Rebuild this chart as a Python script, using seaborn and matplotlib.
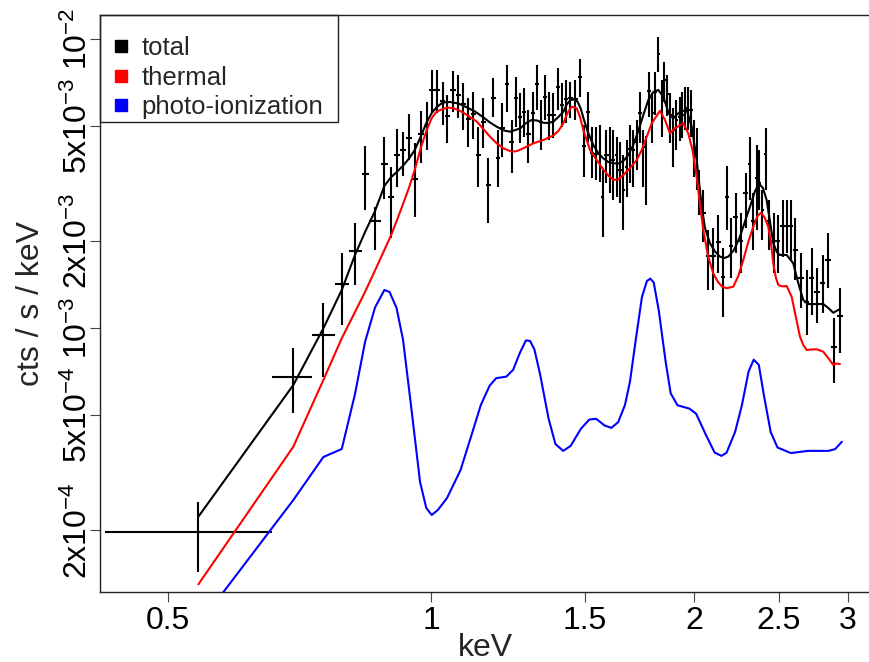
import numpy as np
import pandas as pd
import matplotlib
matplotlib.use("Agg")
import matplotlib.pyplot as plt
import seaborn as sns
from matplotlib.lines import Line2D
from matplotlib.patches import Rectangle
from matplotlib.ticker import FixedLocator, NullLocator

# ---------------- observed spectrum (binned counts) ----------------
energy = [
    0.5416, 0.6956, 0.7529, 0.7903, 0.8184, 0.8403, 0.8627, 0.8842, 0.8992, 0.9142,
    0.9281, 0.9437, 0.9579, 0.9732, 0.9887, 1.0018, 1.0151, 1.0313, 1.0443, 1.0605,
    1.0746, 1.0889, 1.1033, 1.1179, 1.1327, 1.1477, 1.1630, 1.1784, 1.1921, 1.2067,
    1.2207, 1.2370, 1.2500, 1.2644, 1.2777, 1.2922, 1.3073, 1.3211, 1.3362, 1.3514,
    1.3657, 1.3802, 1.3963, 1.4111, 1.4271, 1.4423, 1.4614, 1.4809, 1.4977, 1.5112,
    1.5272, 1.5445, 1.5610, 1.5713, 1.5858, 1.6005, 1.6154, 1.6311, 1.6455, 1.6585,
    1.6747, 1.6893, 1.7041, 1.7193, 1.7345, 1.7497, 1.7608, 1.7761, 1.7916, 1.8044,
    1.8211, 1.8366, 1.8487, 1.8637, 1.8786, 1.8920, 1.9086, 1.9248, 1.9400, 1.9554,
    1.9697, 1.9840, 2.0013, 2.0170, 2.0289, 2.0478, 2.0765, 2.1040, 2.1320, 2.1602,
    2.1831, 2.2045, 2.2337, 2.2615, 2.2933, 2.3158, 2.3361, 2.3588, 2.3764, 2.3921,
    2.4154, 2.4385, 2.4670, 2.4972, 2.5262, 2.5530, 2.5820, 2.6127, 2.6510, 2.6910,
    2.7290, 2.7650, 2.8091, 2.8441, 2.8895, 2.9402,
]

bin_edges = [
    0.4235, 0.6577, 0.7308, 0.7764, 0.8055, 0.8337, 0.8491, 0.8765, 0.8916, 0.9071,
    0.9215, 0.9362, 0.9512, 0.9663, 0.9817, 0.9947, 1.0079, 1.0240, 1.0375, 1.0513,
    1.0681, 1.0823, 1.0966, 1.1112, 1.1259, 1.1408, 1.1559, 1.1713, 1.1852, 1.1994,
    1.2137, 1.2282, 1.2445, 1.2577, 1.2710, 1.2844, 1.2998, 1.3152, 1.3292, 1.3433,
    1.3591, 1.3737, 1.3882, 1.4029, 1.4197, 1.4347, 1.4518, 1.4711, 1.4887, 1.5044,
    1.5184, 1.5365, 1.5527, 1.5663, 1.5788, 1.5932, 1.6082, 1.6230, 1.6380, 1.6520,
    1.6664, 1.6817, 1.6969, 1.7117, 1.7265, 1.7423, 1.7552, 1.7682, 1.7841, 1.7982,
    1.8130, 1.8288, 1.8429, 1.8565, 1.8710, 1.8856, 1.9005, 1.9167, 1.9324, 1.9477,
    1.9626, 1.9772, 1.9929, 2.0092, 2.0228, 2.0386, 2.0623, 2.0902, 2.1178, 2.1461,
    2.1716, 2.1935, 2.2191, 2.2472, 2.2770, 2.3042, 2.3256, 2.3472, 2.3676, 2.3845,
    2.4034, 2.4268, 2.4527, 2.4819, 2.5116, 2.5395, 2.5670, 2.5970, 2.6314, 2.6706,
    2.7096, 2.7470, 2.7870, 2.8261, 2.8667, 2.9145, 2.9650,
]

rate = [
    1.969e-4, 6.790e-4, 9.460e-4, 1.419e-3, 1.845e-3, 3.404e-3, 2.342e-3, 3.676e-3, 2.841e-3, 3.959e-3,
    4.119e-3, 4.521e-3, 3.270e-3, 4.667e-3, 4.986e-3, 6.639e-3, 6.639e-3, 6.107e-3, 5.385e-3, 6.639e-3,
    6.380e-3, 5.940e-3, 5.271e-3, 5.486e-3, 3.959e-3, 5.159e-3, 3.118e-3, 6.215e-3, 3.855e-3, 4.895e-3,
    6.964e-3, 4.400e-3, 6.215e-3, 5.368e-3, 5.586e-3, 4.679e-3, 5.515e-3, 6.964e-3, 5.159e-3, 6.264e-3,
    5.442e-3, 5.442e-3, 6.783e-3, 5.892e-3, 6.165e-3, 6.215e-3, 6.165e-3, 7.344e-3, 4.252e-3, 5.575e-3,
    4.012e-3, 3.990e-3, 3.990e-3, 2.846e-3, 3.959e-3, 3.959e-3, 3.804e-3, 3.959e-3, 3.513e-3, 2.997e-3,
    3.598e-3, 4.152e-3, 4.119e-3, 4.389e-3, 5.515e-3, 4.219e-3, 3.561e-3, 6.586e-3, 5.515e-3, 6.550e-3,
    8.841e-3, 5.586e-3, 7.188e-3, 6.431e-3, 5.442e-3, 4.830e-3, 5.230e-3, 5.356e-3, 5.442e-3, 5.739e-3,
    5.663e-3, 5.663e-3, 4.185e-3, 4.012e-3, 2.997e-3, 2.497e-3, 1.773e-3, 1.773e-3, 1.987e-3, 1.497e-3,
    2.841e-3, 1.920e-3, 2.423e-3, 2.003e-3, 2.919e-3, 3.686e-3, 2.342e-3, 3.297e-3, 3.181e-3, 2.556e-3,
    3.980e-3, 2.342e-3, 2.003e-3, 2.003e-3, 2.259e-3, 2.259e-3, 2.259e-3, 1.860e-3, 1.485e-3, 1.233e-3,
    1.485e-3, 1.335e-3, 1.427e-3, 1.718e-3, 8.619e-4, 1.100e-3,
]

rate_low = [
    1.439e-4, 5.074e-4, 6.790e-4, 1.024e-3, 1.408e-3, 2.556e-3, 1.860e-3, 2.801e-3, 2.038e-3, 3.076e-3,
    3.350e-3, 3.804e-3, 2.423e-3, 3.705e-3, 4.119e-3, 5.515e-3, 5.515e-3, 5.026e-3, 4.344e-3, 5.586e-3,
    5.301e-3, 4.830e-3, 4.229e-3, 4.485e-3, 3.076e-3, 4.175e-3, 2.299e-3, 5.368e-3, 3.076e-3, 3.905e-3,
    5.586e-3, 3.423e-3, 4.958e-3, 4.344e-3, 4.579e-3, 3.705e-3, 4.344e-3, 5.663e-3, 4.119e-3, 5.230e-3,
    4.460e-3, 4.521e-3, 5.663e-3, 4.958e-3, 5.094e-3, 5.301e-3, 5.230e-3, 6.294e-3, 3.331e-3, 4.390e-3,
    3.289e-3, 3.247e-3, 3.201e-3, 2.068e-3, 3.161e-3, 2.926e-3, 2.768e-3, 2.834e-3, 2.703e-3, 2.180e-3,
    2.834e-3, 3.169e-3, 3.069e-3, 3.513e-3, 4.356e-3, 3.069e-3, 2.660e-3, 5.356e-3, 4.356e-3, 5.442e-3,
    7.661e-3, 4.567e-3, 6.058e-3, 5.398e-3, 4.356e-3, 3.598e-3, 4.119e-3, 4.425e-3, 4.532e-3, 4.830e-3,
    4.830e-3, 4.567e-3, 3.323e-3, 2.997e-3, 2.455e-3, 1.982e-3, 1.353e-3, 1.353e-3, 1.545e-3, 1.092e-3,
    2.180e-3, 1.489e-3, 1.818e-3, 1.545e-3, 2.224e-3, 2.768e-3, 1.860e-3, 2.180e-3, 2.556e-3, 2.014e-3,
    2.997e-3, 1.860e-3, 1.545e-3, 1.545e-3, 1.752e-3, 1.818e-3, 1.718e-3, 1.465e-3, 1.177e-3, 9.460e-4,
    1.109e-3, 1.040e-3, 1.127e-3, 1.380e-3, 6.455e-4, 8.195e-4,
]

rate_high = [
    2.512e-4, 8.510e-4, 1.217e-3, 1.812e-3, 2.299e-3, 4.252e-3, 2.624e-3, 4.557e-3, 3.607e-3, 4.857e-3,
    4.765e-3, 5.486e-3, 4.344e-3, 5.617e-3, 6.049e-3, 7.784e-3, 7.784e-3, 7.092e-3, 6.380e-3, 7.741e-3,
    7.480e-3, 7.003e-3, 6.215e-3, 6.550e-3, 4.958e-3, 6.215e-3, 3.855e-3, 7.286e-3, 4.830e-3, 5.973e-3,
    8.103e-3, 5.230e-3, 7.379e-3, 6.466e-3, 6.729e-3, 5.663e-3, 6.550e-3, 8.103e-3, 6.131e-3, 7.480e-3,
    6.550e-3, 6.466e-3, 7.889e-3, 7.003e-3, 7.188e-3, 7.092e-3, 7.188e-3, 8.475e-3, 5.026e-3, 6.530e-3,
    4.958e-3, 4.958e-3, 5.026e-3, 3.513e-3, 4.830e-3, 4.946e-3, 4.830e-3, 4.567e-3, 4.389e-3, 3.959e-3,
    4.460e-3, 5.026e-3, 4.830e-3, 5.230e-3, 6.536e-3, 4.830e-3, 4.604e-3, 7.661e-3, 6.481e-3, 7.661e-3,
    1.012e-2, 7.188e-3, 8.328e-3, 7.502e-3, 6.481e-3, 5.753e-3, 6.131e-3, 6.279e-3, 6.536e-3, 6.799e-3,
    6.799e-3, 6.639e-3, 5.230e-3, 4.907e-3, 3.513e-3, 2.997e-3, 2.180e-3, 2.215e-3, 2.455e-3, 1.890e-3,
    3.627e-3, 2.398e-3, 2.926e-3, 2.497e-3, 3.430e-3, 4.567e-3, 2.926e-3, 4.287e-3, 4.119e-3, 2.997e-3,
    4.907e-3, 2.768e-3, 2.497e-3, 2.455e-3, 2.768e-3, 2.768e-3, 2.768e-3, 2.408e-3, 1.818e-3, 1.586e-3,
    1.897e-3, 1.618e-3, 1.788e-3, 2.137e-3, 1.083e-3, 1.380e-3,
]

# ---------------- fitted model components ----------------
total_energy = [
    0.5416, 0.6956, 0.7529, 0.7903, 0.8184, 0.8403, 0.8627, 0.8842, 0.8992, 0.9142,
    0.9281, 0.9437, 0.9579, 0.9732, 0.9887, 1.0018, 1.0151, 1.0313, 1.0513, 1.0746,
    1.0986, 1.1229, 1.1477, 1.1682, 1.1890, 1.2099, 1.2315, 1.2644, 1.2844, 1.3039,
    1.3223, 1.3443, 1.3610, 1.3802, 1.3985, 1.4171, 1.4309, 1.4442, 1.4575, 1.4711,
    1.4828, 1.4966, 1.5124, 1.5337, 1.5540, 1.5746, 1.5955, 1.6167, 1.6380, 1.6598,
    1.6817, 1.7041, 1.7265, 1.7497, 1.7729, 1.7963, 1.8202, 1.8443, 1.8708, 1.8935,
    1.9273, 1.9615, 1.9877, 2.0139, 2.0408, 2.0585, 2.0858, 2.1134, 2.1415, 2.1659,
    2.1889, 2.2220, 2.2573, 2.2873, 2.3177, 2.3484, 2.3751, 2.3984, 2.4218, 2.4430,
    2.4644, 2.4885, 2.5083, 2.5530, 2.5977, 2.6301, 2.6671, 2.7003, 2.7383, 2.8114,
    2.8486, 2.8864, 2.9378,
]
total_rate = [
    2.230e-4, 6.356e-4, 9.977e-4, 1.353e-3, 1.788e-3, 2.145e-3, 2.536e-3, 3.093e-3, 3.310e-3, 3.466e-3,
    3.627e-3, 3.850e-3, 4.119e-3, 4.586e-3, 5.146e-3, 5.530e-3, 5.799e-3, 6.011e-3, 6.036e-3, 5.963e-3,
    5.785e-3, 5.595e-3, 5.343e-3, 5.126e-3, 4.958e-3, 4.818e-3, 4.765e-3, 4.887e-3, 5.106e-3, 5.230e-3,
    5.209e-3, 5.117e-3, 5.106e-3, 5.159e-3, 5.356e-3, 5.586e-3, 5.940e-3, 6.131e-3, 6.156e-3, 6.058e-3,
    5.753e-3, 5.230e-3, 4.734e-3, 4.287e-3, 4.022e-3, 3.855e-3, 3.744e-3, 3.706e-3, 3.700e-3, 3.774e-3,
    3.959e-3, 4.287e-3, 4.791e-3, 5.442e-3, 6.131e-3, 6.536e-3, 6.639e-3, 6.294e-3, 5.515e-3, 5.301e-3,
    5.586e-3, 5.663e-3, 4.958e-3, 3.804e-3, 2.624e-3, 2.215e-3, 1.962e-3, 1.838e-3, 1.764e-3, 1.745e-3,
    1.764e-3, 1.860e-3, 2.068e-3, 2.333e-3, 2.624e-3, 2.973e-3, 3.144e-3, 3.045e-3, 2.768e-3, 2.333e-3,
    1.962e-3, 1.826e-3, 1.788e-3, 1.788e-3, 1.673e-3, 1.442e-3, 1.250e-3, 1.210e-3, 1.210e-3, 1.210e-3,
    1.173e-3, 1.129e-3, 1.163e-3,
]

thermal_energy = [
    0.5416, 0.6956, 0.7529, 0.7903, 0.8184, 0.8403, 0.8627, 0.8842, 0.8992, 0.9142,
    0.9281, 0.9437, 0.9579, 0.9732, 0.9887, 1.0018, 1.0151, 1.0313, 1.0454, 1.0605,
    1.0746, 1.0889, 1.1083, 1.1286, 1.1477, 1.1682, 1.1890, 1.2099, 1.2370, 1.2543,
    1.2751, 1.3094, 1.3443, 1.3802, 1.3985, 1.4171, 1.4327, 1.4488, 1.4680, 1.4809,
    1.4938, 1.5204, 1.5475, 1.5746, 1.5955, 1.6167, 1.6380, 1.6598, 1.6893, 1.7193,
    1.7423, 1.7654, 1.7879, 1.8044, 1.8284, 1.8526, 1.8771, 1.9020, 1.9441, 1.9697,
    1.9919, 2.0139, 2.0316, 2.0494, 2.0748, 2.1040, 2.1302, 2.1529, 2.1798, 2.2179,
    2.2472, 2.2770, 2.3074, 2.3379, 2.3638, 2.3858, 2.4091, 2.4321, 2.4495, 2.4644,
    2.4819, 2.4972, 2.5215, 2.5530, 2.5868, 2.6093, 2.6440, 2.6671, 2.6910, 2.7268,
    2.7630, 2.8114, 2.8486, 2.8864, 2.9109, 2.9378,
]
thermal_rate = [
    1.302e-4, 3.891e-4, 6.614e-4, 9.214e-4, 1.136e-3, 1.332e-3, 1.580e-3, 1.860e-3, 2.079e-3, 2.361e-3,
    2.664e-3, 3.057e-3, 3.513e-3, 4.185e-3, 4.830e-3, 5.313e-3, 5.595e-3, 5.708e-3, 5.776e-3, 5.739e-3,
    5.663e-3, 5.540e-3, 5.356e-3, 5.159e-3, 4.868e-3, 4.579e-3, 4.344e-3, 4.175e-3, 4.063e-3, 4.086e-3,
    4.175e-3, 4.344e-3, 4.460e-3, 4.623e-3, 4.791e-3, 5.094e-3, 5.530e-3, 5.814e-3, 5.739e-3, 5.356e-3,
    4.830e-3, 4.119e-3, 3.804e-3, 3.527e-3, 3.363e-3, 3.247e-3, 3.260e-3, 3.377e-3, 3.570e-3, 3.801e-3,
    4.119e-3, 4.579e-3, 5.066e-3, 5.301e-3, 5.630e-3, 5.230e-3, 4.705e-3, 4.895e-3, 5.094e-3, 4.705e-3,
    4.119e-3, 3.331e-3, 2.664e-3, 2.180e-3, 1.773e-3, 1.545e-3, 1.442e-3, 1.391e-3, 1.372e-3, 1.389e-3,
    1.512e-3, 1.718e-3, 1.983e-3, 2.238e-3, 2.437e-3, 2.501e-3, 2.408e-3, 2.238e-3, 1.966e-3, 1.673e-3,
    1.489e-3, 1.408e-3, 1.393e-3, 1.396e-3, 1.283e-3, 1.131e-3, 9.333e-4, 8.737e-4, 8.396e-4, 8.429e-4,
    8.442e-4, 8.282e-4, 7.878e-4, 7.452e-4, 7.541e-4, 7.511e-4,
]

photo_energy = [
    0.5416, 0.6956, 0.7529, 0.7903, 0.8184, 0.8403, 0.8627, 0.8842, 0.8964, 0.9131,
    0.9289, 0.9499, 0.9714, 0.9875, 1.0018, 1.0181, 1.0430, 1.0809, 1.1153, 1.1402,
    1.1669, 1.1871, 1.2195, 1.2415, 1.2637, 1.2841, 1.2981, 1.3132, 1.3334, 1.3632,
    1.3879, 1.4167, 1.4450, 1.4840, 1.5176, 1.5449, 1.5800, 1.6086, 1.6374, 1.6668,
    1.6893, 1.7122, 1.7432, 1.7663, 1.7822, 1.7983, 1.8226, 1.8555, 1.8806, 1.9146,
    1.9751, 2.0108, 2.0656, 2.1118, 2.1500, 2.1790, 2.2284, 2.2687, 2.3092, 2.3404,
    2.3720, 2.4041, 2.4476, 2.4919, 2.5820, 2.7003, 2.8486, 2.9001, 2.9526,
]
photo_rate = [
    9.420e-5, 2.546e-4, 3.584e-4, 3.820e-4, 5.917e-4, 8.947e-4, 1.177e-3, 1.353e-3, 1.332e-3, 1.173e-3,
    9.091e-4, 5.210e-4, 2.938e-4, 2.389e-4, 2.260e-4, 2.352e-4, 2.587e-4, 3.232e-4, 4.373e-4, 5.421e-4,
    6.320e-4, 6.708e-4, 6.794e-4, 7.172e-4, 8.204e-4, 9.062e-4, 9.023e-4, 8.429e-4, 6.887e-4, 4.857e-4,
    3.972e-4, 3.763e-4, 3.918e-4, 4.482e-4, 4.830e-4, 4.857e-4, 4.605e-4, 4.518e-4, 4.729e-4, 5.409e-4,
    6.530e-4, 8.772e-4, 1.278e-3, 1.453e-3, 1.481e-3, 1.436e-3, 1.148e-3, 7.668e-4, 5.948e-4, 5.409e-4,
    5.268e-4, 5.060e-4, 4.246e-4, 3.711e-4, 3.616e-4, 3.711e-4, 4.373e-4, 5.409e-4, 7.076e-4, 7.772e-4,
    7.466e-4, 5.864e-4, 4.373e-4, 3.866e-4, 3.698e-4, 3.763e-4, 3.763e-4, 3.814e-4, 4.045e-4,
]

components = ["total", "thermal", "photo-ionization"]
component_colors = ["black", "#FF0000", "#0000FF"]

x_ticks = [0.5, 1, 1.5, 2, 2.5, 3]
x_tick_labels = ["0.5", "1", "1.5", "2", "2.5", "3"]
y_ticks = [2e-4, 5e-4, 1e-3, 2e-3, 5e-3, 1e-2]
y_tick_labels = [r"$2\mathrm{x}10^{-4}$", r"$5\mathrm{x}10^{-4}$", r"$10^{-3}$",
                 r"$2\mathrm{x}10^{-3}$", r"$5\mathrm{x}10^{-3}$", r"$10^{-2}$"]

# ---------------- styling ----------------
sns.set_theme(style="ticks")
plt.rcParams["font.family"] = ["Liberation Sans", "DejaVu Sans"]
plt.rcParams["mathtext.fontset"] = "custom"
plt.rcParams["mathtext.rm"] = "Liberation Sans"
plt.rcParams["mathtext.it"] = "Liberation Sans:italic"
plt.rcParams["mathtext.bf"] = "Liberation Sans:bold"
plt.rcParams["axes.unicode_minus"] = True

fig = plt.figure(figsize=(8.7, 6.62), dpi=100)
fig.patch.set_facecolor("white")
ax = fig.add_axes([100 / 870, 70 / 662, 770 / 870, 577 / 662])
ax.set_facecolor("white")
ax.set_xscale("log")
ax.set_yscale("log")

# data points with energy-bin and rate error bars
E = np.array(energy)
edges = np.array(bin_edges)
R = np.array(rate)
xerr = np.vstack([E - edges[:-1], edges[1:] - E])
yerr = np.vstack([R - np.array(rate_low), np.array(rate_high) - R])
ax.errorbar(E, R, xerr=xerr, yerr=yerr, fmt="none", ecolor="black",
            elinewidth=1.5, capsize=0, zorder=2)

# model curves
model = pd.concat([
    pd.DataFrame({"energy": total_energy, "rate": total_rate, "component": "total"}),
    pd.DataFrame({"energy": thermal_energy, "rate": thermal_rate, "component": "thermal"}),
    pd.DataFrame({"energy": photo_energy, "rate": photo_rate, "component": "photo-ionization"}),
], ignore_index=True)
sns.lineplot(data=model, x="energy", y="rate", hue="component", hue_order=components,
             palette=dict(zip(components, component_colors)), estimator=None, sort=False,
             linewidth=1.5, legend=False, ax=ax, zorder=3)

ax.set_xlim(0.4179, 3.180)
ax.set_ylim(1.2248e-4, 1.2056e-2)

ax.xaxis.set_major_locator(FixedLocator(x_ticks))
ax.xaxis.set_minor_locator(NullLocator())
ax.set_xticklabels(x_tick_labels)
ax.yaxis.set_major_locator(FixedLocator(y_ticks))
ax.yaxis.set_minor_locator(NullLocator())
ax.set_yticklabels(y_tick_labels, rotation=90, va="center")

ax.tick_params(axis="both", which="major", direction="out", length=7, width=0.8,
               color="#444444", labelsize=23, labelcolor="black", pad=3)
ax.tick_params(axis="y", pad=-3)

for side in ["left", "bottom", "top"]:
    ax.spines[side].set_color("#222222")
    ax.spines[side].set_linewidth(1.0)
ax.spines["right"].set_visible(False)

ax.set_xlabel("keV", fontsize=23, labelpad=-2)
ax.set_ylabel("cts / s / keV", fontsize=23)
ax.yaxis.set_label_coords(-54 / 770, 0.5)

# legend: square keys, boxed in the upper-left corner of the plot
handles = [Line2D([], [], marker="s", linestyle="none", color=c, markersize=9)
           for c in component_colors]
ax.legend(handles, components, loc="upper left", bbox_to_anchor=(8 / 770, 1 - 21 / 577),
          borderaxespad=0, frameon=False, fontsize=18.5, handlelength=1.0,
          handletextpad=0.3, borderpad=0, labelspacing=0.22)
ax.add_patch(Rectangle((0, 1 - 107 / 577), 238 / 770, 107 / 577, transform=ax.transAxes,
                       fill=False, edgecolor="#222222", linewidth=1.0, clip_on=False,
                       zorder=5))

fig.savefig("out.png", dpi=100, facecolor="white")
